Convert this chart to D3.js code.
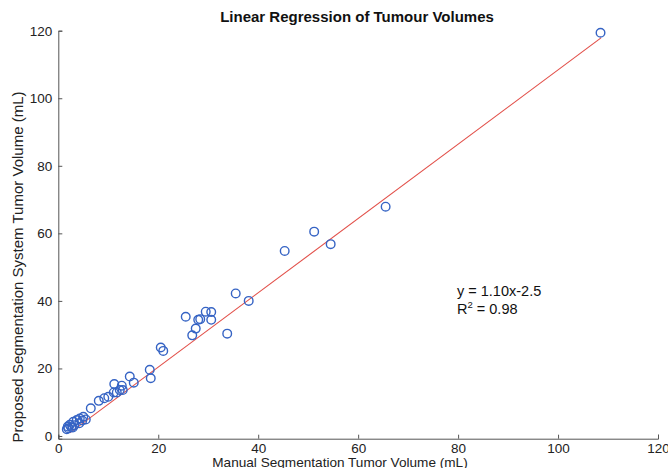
<!DOCTYPE html>
<html>
<head>
<meta charset="utf-8">
<script src="https://cdn.jsdelivr.net/npm/d3@7"></script>
<style>
  body { margin: 0; background: #fff; }
  text { font-family: "Liberation Sans", Arial, sans-serif; }
</style>
</head>
<body>
<svg id="chart"></svg>
<script>
// Manual vs proposed tumour volumes (mL)
const manualVol = [108.5, 65.5, 51.2, 54.5, 45.3, 35.5, 38.1, 25.5, 26.8, 27.5,
  28.0, 28.4, 29.5, 30.6, 30.6, 33.8, 20.5, 21.0, 18.3, 18.5,
  14.3, 15.1, 11.2, 12.7, 12.3, 11.7, 11.1, 12.9, 10.0, 9.2,
  8.1, 6.5, 5.0, 4.3, 3.7, 4.2, 3.0, 2.3, 2.0, 1.7,
  2.6, 3.2, 4.8, 5.5, 1.9, 2.9];
const proposedVol = [119.4, 67.9, 60.5, 56.8, 54.8, 42.2, 40.0, 35.3, 29.8, 31.8,
  34.4, 34.6, 36.8, 36.7, 34.4, 30.3, 26.2, 25.2, 19.6, 17.1,
  17.6, 15.8, 15.4, 14.9, 13.6, 12.9, 12.9, 13.6, 11.6, 11.2,
  10.4, 8.2, 5.7, 5.2, 4.7, 3.8, 4.2, 3.3, 2.3, 2.0,
  2.6, 3.2, 4.6, 4.9, 2.8, 2.5];

// fitted line as drawn, and the printed equation
const fitSlope = 1.10;
const fitIntercept = -1.6;
const fitRange = [2.3, 108.6];
const eqText = "y = 1.10x-2.5";
const r2Text = " = 0.98";

const xTicks = [0, 20, 40, 60, 80, 100, 120];
const yTicks = [0, 20, 40, 60, 80, 100, 120];

const width = 668, height = 468;
const svg = d3.select("#chart").attr("width", width).attr("height", height);

const x = d3.scaleLinear().domain([0, 120]).range([58.3, 658]);
const y = d3.scaleLinear().domain([-0.8, 120]).range([438.7, 30.7]);

const axisColor = "#555";

// x axis
const gx = svg.append("g")
  .attr("transform", `translate(0,${y(-0.8)})`)
  .call(d3.axisBottom(x).tickValues(xTicks).tickSize(-4).tickPadding(4));
// y axis
const gy = svg.append("g")
  .attr("transform", `translate(${x(0)},0)`)
  .call(d3.axisLeft(y).tickValues(yTicks).tickSize(-4).tickPadding(6));

[gx, gy].forEach((g) => {
  g.select(".domain").attr("stroke", axisColor).attr("stroke-width", 1);
  g.selectAll(".tick line").attr("stroke", axisColor);
  g.selectAll(".tick text")
    .attr("fill", "#222")
    .style("font-size", "13.5px");
});
gx.selectAll(".tick text").attr("dy", "0.8em");

// regression line
svg.append("line")
  .attr("x1", x(fitRange[0]))
  .attr("y1", y(fitSlope * fitRange[0] + fitIntercept))
  .attr("x2", x(fitRange[1]))
  .attr("y2", y(fitSlope * fitRange[1] + fitIntercept))
  .attr("stroke", "#e2504a")
  .attr("stroke-width", 1.1);

// points
svg.append("g")
  .selectAll("circle")
  .data(manualVol.map((v, i) => [v, proposedVol[i]]))
  .join("circle")
  .attr("cx", (d) => x(d[0]))
  .attr("cy", (d) => y(d[1]))
  .attr("r", 4.3)
  .attr("fill", "none")
  .attr("stroke", "#3563c4")
  .attr("stroke-width", 1.4);

// title
svg.append("text")
  .attr("x", 357)
  .attr("y", 22)
  .attr("text-anchor", "middle")
  .style("font-size", "15px")
  .style("font-weight", "bold")
  .attr("fill", "#111")
  .text("Linear Regression of Tumour Volumes");

// axis labels
svg.append("text")
  .attr("x", 340)
  .attr("y", 467)
  .attr("text-anchor", "middle")
  .style("font-size", "13.6px")
  .attr("fill", "#222")
  .text("Manual Segmentation Tumor Volume (mL)");

svg.append("text")
  .attr("transform", "translate(23,267) rotate(-90)")
  .attr("text-anchor", "middle")
  .style("font-size", "15px")
  .attr("fill", "#222")
  .text("Proposed Segmentation System Tumor Volume (mL)");

// equation annotation
const eq = svg.append("text")
  .attr("x", 457)
  .attr("y", 296)
  .style("font-size", "14.5px")
  .attr("fill", "#111");
eq.append("tspan").text(eqText);
const r2 = eq.append("tspan").attr("x", 457).attr("dy", 18);
r2.append("tspan").text("R");
r2.append("tspan").attr("dy", -6).style("font-size", "9.5px").text("2");
r2.append("tspan").attr("dy", 6).text(r2Text);
</script>
</body>
</html>
